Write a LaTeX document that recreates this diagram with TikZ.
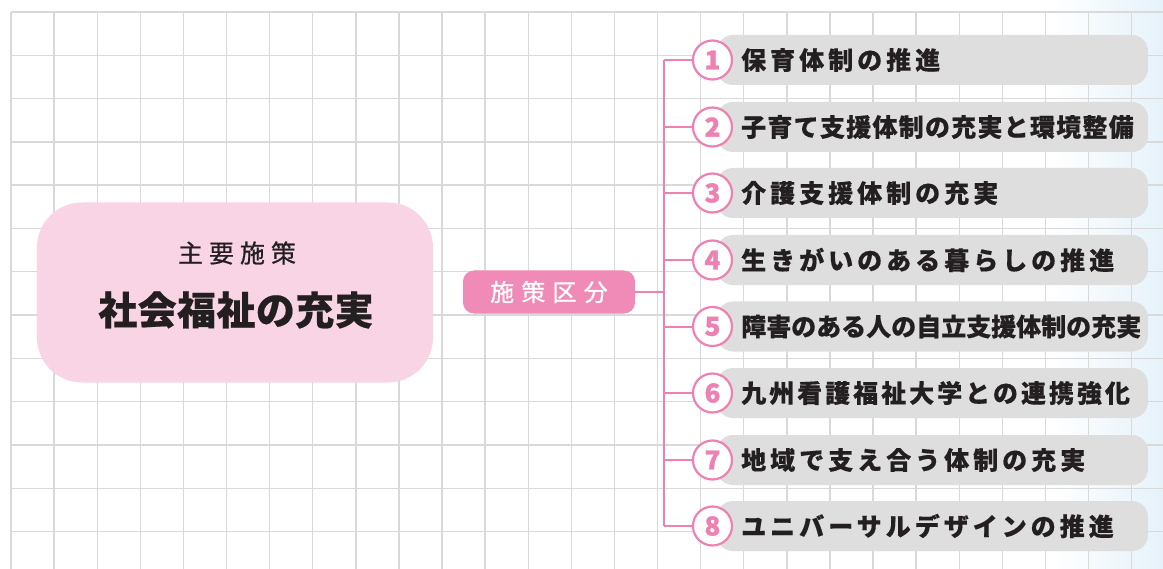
\documentclass[tikz,border=0pt]{standalone}
\usepackage{fontspec}
\setmainfont{Noto Sans CJK JP}
\definecolor{gridc}{HTML}{D9D9DB}
\definecolor{bluebg}{HTML}{E6F2FA}
\definecolor{pinkline}{HTML}{EE80B2}
\definecolor{pinkfill}{HTML}{F08AB6}
\definecolor{lightpink}{HTML}{F9D4E5}
\definecolor{graybox}{HTML}{DEDEDF}
\definecolor{ink}{HTML}{231F20}
\newcommand{\ls}[2]{{\addfontfeature{LetterSpace=#1}#2}}
\newcommand{\med}{\addfontfeature{FakeBold=0.7}}
\tikzset{
  gridline/.style={draw=gridc,line width=1.4bp},
  mainbox/.style={fill=lightpink,rounded corners=45bp,minimum width=396bp,minimum height=180bp,inner sep=0pt},
  catbox/.style={fill=pinkfill,rounded corners=11bp,minimum width=172bp,minimum height=43bp,inner sep=0pt,text=white,font=\fontsize{24bp}{24bp}\selectfont\med},
  itembox/.style={fill=graybox,rounded corners=16bp,minimum width=431bp,minimum height=50bp,inner sep=0pt},
  numcirc/.style={circle,draw=pinkline,line width=2.2bp,fill=white,minimum size=39bp,inner sep=0pt,text=pinkline,font=\bfseries\fontsize{26bp}{26bp}\selectfont\addfontfeature{FakeBold=1.2}},
  itemtext/.style={anchor=west,inner sep=0pt,text=ink,font=\bfseries\fontsize{25bp}{25bp}\selectfont\addfontfeature{FakeBold=0.4}},
  conn/.style={draw=pinkline,line width=2bp},
}
\begin{document}
\begin{tikzpicture}[x=1bp,y=-1bp]
\useasboundingbox (0,0) rectangle (1163,569);
\fill[white] (0,0) rectangle (1163,569);
\shade[left color=white,right color=bluebg] (1050,0) rectangle (1163,569);
\foreach \i in {0,...,26} \draw[gridline] ({11+43.1*\i},12) -- ({11+43.1*\i},569);
\foreach \j in {0,...,13} \draw[gridline] (11,{12+43.3*\j}) -- (1163,{12+43.3*\j});

% main box
\node[mainbox] (main) at (235,292.5) {};
\node[text=ink,inner sep=0pt,font=\fontsize{25bp}{25bp}\selectfont\med] (sub) at (237,253) {\ls{24}{主要施策}};
\node[text=ink,inner sep=0pt,font=\bfseries\fontsize{39bp}{39bp}\selectfont\addfontfeature{FakeBold=0.5}] (title) at (236,310) {\ls{1}{社会福祉の充実}};

% category
\node[catbox] (cat) at (549,292) {\ls{30}{施策区分}};
\coordinate (trunk) at (664,292);
\draw[conn] (cat.east) -- (trunk);

% items
\foreach \k/\y/\sp/\t in {
 1/60/16/保育体制の推進,
 2/127/5/子育て支援体制の充実と環境整備,
 3/193/16/介護支援体制の充実,
 4/260/16/生きがいのある暮らしの推進,
 5/326.5/0/障害のある人の自立支援体制の充実,
 6/393/12/九州看護福祉大学との連携強化,
 7/460/16/地域で支え合う体制の充実,
 8/526/16/ユニバーサルデザインの推進}{
  \coordinate (t\k) at (664,\y);
  \node[itembox] (b\k) at (932.5,\y) {};
  \node[numcirc] (c\k) at (712.5,\y) {\k};
  \node[itemtext] (x\k) at (741,\y) {\ls{\sp}{\t}};
}
\draw[conn] (t1) -- (t8);
\foreach \k in {1,...,8} \draw[conn] (t\k) -- (c\k.west);
\end{tikzpicture}
\end{document}
